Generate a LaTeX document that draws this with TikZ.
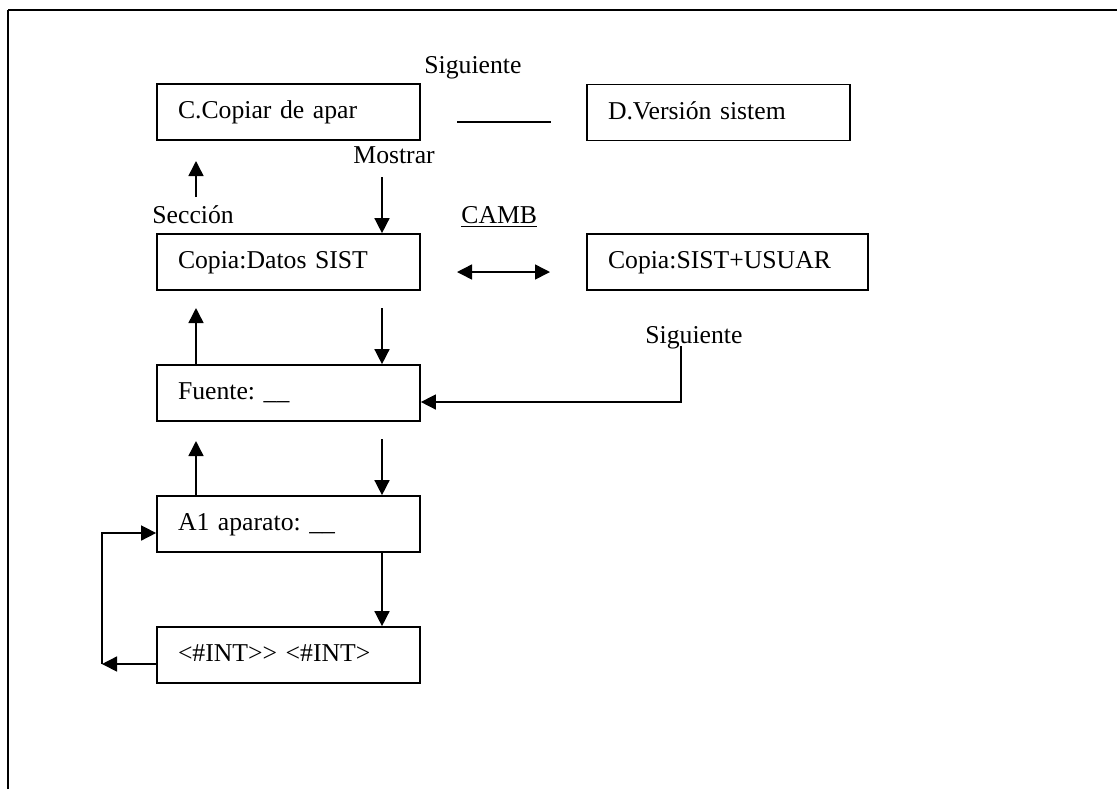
\documentclass[tikz,border=0pt]{standalone}
\usepackage{fontspec}
\setmainfont{Liberation Serif}
\usetikzlibrary{arrows.meta}
\begin{document}
\frenchspacing
\begin{tikzpicture}[x=0.5pt,y=-0.5pt,
  font=\fontsize{12.85pt}{15pt}\selectfont\frenchspacing,
  box/.style={draw, line width=0.85pt, rectangle, minimum height=28pt,
    minimum width=131.5pt, text width=110.5pt, inner xsep=10.5pt, inner ysep=0pt,
    text height=9.25pt, text depth=2.3pt, align=left},
  lbl/.style={anchor=base west, inner sep=0pt},
  arr/.style={line width=0.75pt, -{Triangle[length=7.5pt,width=7.5pt]}},
  dbl/.style={line width=0.75pt, {Triangle[length=7.5pt,width=7.5pt]}-{Triangle[length=7.5pt,width=7.5pt]}},
  plain/.style={line width=0.75pt}]
\useasboundingbox (0,0) rectangle (1117,789);

% frame
\coordinate (fbl) at (8,789);
\coordinate (ftl) at (8,10);
\coordinate (ftr) at (1117,10);
\draw[line width=0.7pt] (fbl) -- (ftl);
\draw[line width=1.1pt] (ftl) -- (ftr);

% boxes
\node[box] (C) at (288.5,112) {C.Copiar de apar};
\node[box] (D) at (718.5,112.5) {D.Versión sistem};
\node[box] (S) at (288.5,262) {Copia:Datos SIST};
\node[box, minimum width=140.5pt, text width=119.5pt] (SU) at (727.5,262) {Copia:SIST+USUAR};
\node[box] (F) at (288.5,393) {Fuente: \_\_};
\node[box] (A) at (288.5,524) {A1 aparato: \_\_};
\node[box] (I) at (288.5,655) {<\#INT>{}> <\#INT>};

% labels
\node[lbl] (sig1) at (424,73) {Siguiente};
\node[lbl] (most) at (353,163) {Mostrar};
\node[lbl] (secc) at (152,223) {Sección};
\node[lbl] (camb) at (461,223) {\underline{CAMB}};
\node[lbl] (sig2) at (645,343) {Siguiente};

% connectors
\coordinate (la) at (457,122); \coordinate (lb) at (551,122);
\draw[plain] (la) -- (lb);

\coordinate (sa) at (196,197); \coordinate (sb) at (196,161);
\draw[arr] (sa) -- (sb);

\coordinate (ma) at (382,177);
\draw[arr] (ma) -- (ma |- S.north);

\coordinate (ca) at (457,272); \coordinate (cb) at (550,272);
\draw[dbl] (ca) -- (cb);

\coordinate (u1) at (196,308);
\draw[arr] (F.north -| u1) -- (u1);
\coordinate (d1) at (382,308);
\draw[arr] (d1) -- (d1 |- F.north);

\coordinate (u2) at (196,441);
\draw[arr] (A.north -| u2) -- (u2);
\coordinate (d2) at (382,439);
\draw[arr] (d2) -- (d2 |- A.north);

\draw[arr] (A.south -| d2) -- (I.north -| d2);

\coordinate (lp) at (102,664); \coordinate (lq) at (102,533);
\draw[arr] (I.west |- lp) -- (lp);
\draw[arr] (lp) -- (lq) -- (lq -| A.west);

\coordinate (ga) at (681,346); \coordinate (gb) at (681,402);
\draw[arr] (ga) -- (gb) -- (gb -| F.east);
\end{tikzpicture}
\end{document}
